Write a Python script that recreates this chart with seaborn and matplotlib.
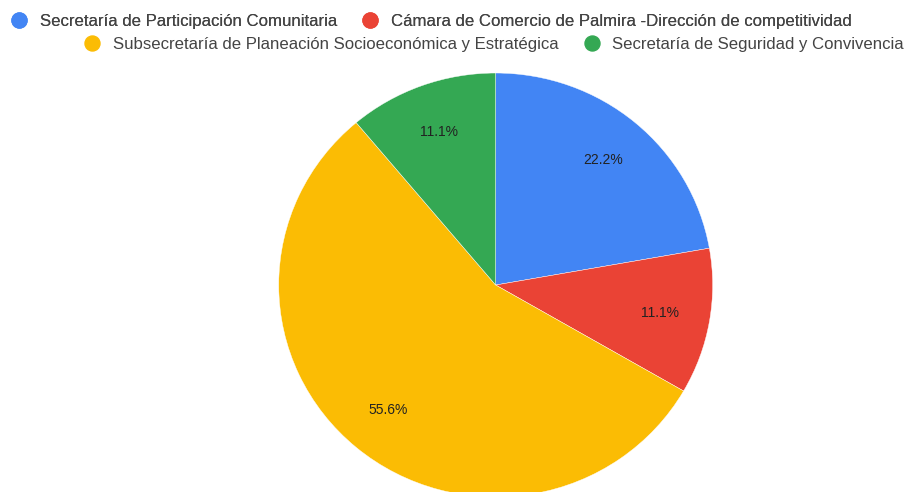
import matplotlib
matplotlib.use("Agg")
import matplotlib.pyplot as plt
import seaborn as sns
from matplotlib.lines import Line2D

# datos
categorias = [
    "Secretaría de Participación Comunitaria",
    "Cámara de Comercio de Palmira -Dirección de competitividad",
    "Subsecretaría de Planeación Socioeconómica y Estratégica",
    "Secretaría de Seguridad y Convivencia",
]
conteos = [2, 1, 5, 1]
colores = ["#4285F4", "#EA4335", "#FBBC04", "#34A853"]

sns.set_theme(style="white")
plt.rcParams['font.family'] = ['Liberation Sans', 'DejaVu Sans']
palette = sns.color_palette(colores)

fig = plt.figure(figsize=(9.09, 4.92), dpi=100)
ax = fig.add_axes([0.3066, -0.0102, 0.4774, 0.8618])

wedges, texts, autotexts = ax.pie(
    conteos, colors=palette, startangle=90, counterclock=False,
    autopct='%1.1f%%', pctdistance=0.77, radius=1,
    wedgeprops=dict(linewidth=0.3, edgecolor='white'),
    textprops=dict(fontsize=10, color='#222222'),
)
ax.set_aspect('auto')
ax.set_xlim(-1, 1)
ax.set_ylim(-1, 1)
ax.axis('off')

handles = [Line2D([0], [0], marker='o', color='none', markerfacecolor=c,
                  markeredgecolor=c, markersize=10.8) for c in colores]

opts = dict(ncol=2, loc='center', frameon=False, fontsize=12.1,
            handletextpad=0.74, columnspacing=1.45, handlelength=1.0,
            borderpad=0, labelcolor='#444444')
leg1 = fig.legend(handles[:2], categorias[:2],
                  bbox_to_anchor=(431 / 909, 1 - 21.5 / 492), **opts)
fig.add_artist(leg1)
fig.legend(handles[2:], categorias[2:],
           bbox_to_anchor=(494 / 909, 1 - 44.5 / 492), **opts)

plt.savefig('out.png', dpi=100)
